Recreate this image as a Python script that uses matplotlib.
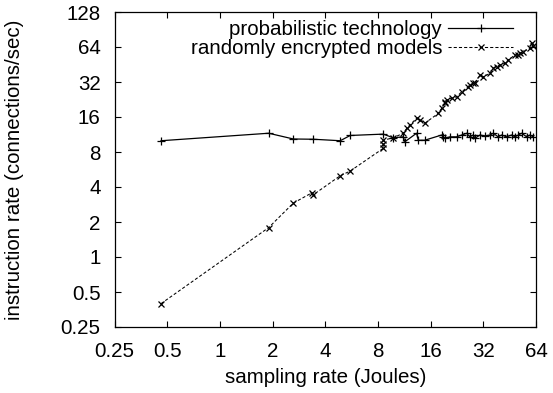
import matplotlib
matplotlib.use('Agg')
import matplotlib.pyplot as plt
from matplotlib.ticker import FixedLocator, FixedFormatter, NullLocator

plt.rcParams['font.family'] = ['Liberation Sans', 'DejaVu Sans']

# probabilistic technology
prob_x = [0.461, 1.90, 2.63, 3.42, 4.87, 5.56, 8.58, 9.78, 11.16, 11.4,
          13.3, 13.6, 14.8, 18.5, 18.9, 19.3, 20.6, 22.5, 24.1, 25.7,
          26.8, 28.0, 28.7, 30.6, 32.7, 34.9, 36.5, 38.9, 40.7, 43.5,
          46.4, 48.5, 50.7, 53.0, 56.6, 59.1, 61.7]
prob_y = [10.0, 11.6, 10.35, 10.3, 10.0, 11.1, 11.4, 10.6, 10.8, 9.8,
          11.6, 10.1, 10.1, 11.2, 10.8, 10.5, 10.8, 10.8, 11.2, 11.6,
          10.8, 11.2, 10.5, 11.2, 11.0, 11.2, 11.6, 10.8, 11.2, 10.8,
          11.2, 10.8, 11.2, 11.6, 10.8, 11.2, 10.8]

# randomly encrypted models
enc_x = [0.461, 1.90, 2.63, 3.36, 3.42, 4.87, 5.56, 8.58, 8.58, 8.58,
         9.78, 11.16, 11.7, 12.2, 13.3, 13.9, 14.8, 17.7, 18.5, 19.3,
         19.3, 19.75, 21.1, 22.5, 24.1, 26.2, 26.8, 28.0, 28.7, 30.6,
         32.0, 34.9, 36.5, 38.1, 39.8, 42.5, 44.4, 48.5, 50.7, 51.8,
         54.1, 59.1, 60.4, 61.7]
enc_y = [0.397, 1.79, 2.91, 3.57, 3.43, 5.0, 5.49, 8.6, 9.3, 10.1,
         10.6, 11.6, 12.8, 13.7, 15.6, 15.1, 14.1, 17.2, 19.0, 21.0,
         21.7, 22.4, 23.2, 23.9, 26.4, 29.2, 30.2, 31.2, 31.2, 36.8,
         35.5, 38.0, 42.0, 43.3, 44.8, 46.3, 49.5, 54.6, 54.6, 56.5,
         58.3, 62.4, 68.9, 65.3]

x_ticks = [0.25, 0.5, 1, 2, 4, 8, 16, 32, 64]
x_tick_labels = ['0.25', '0.5', '1', '2', '4', '8', '16', '32', '64']
y_ticks = [0.25, 0.5, 1, 2, 4, 8, 16, 32, 64, 128]
y_tick_labels = ['0.25', '0.5', '1', '2', '4', '8', '16', '32', '64', '128']

series_labels = ['probabilistic technology', 'randomly encrypted models']
x_label = 'sampling rate (Joules)'
y_label = 'instruction rate (connections/sec)'

FS = 14.8

fig = plt.figure(figsize=(5.53, 3.93), dpi=100)
ax = fig.add_axes([114.5 / 553, 1 - 327 / 393, (536 - 114.5) / 553, 315 / 393])

ax.plot(prob_x, prob_y, color='black', linestyle='-', linewidth=0.9,
        marker='+', markersize=5.5, markeredgewidth=0.9, label=series_labels[0])
ax.plot(enc_x, enc_y, color='black', linestyle=(0, (3, 2)), linewidth=0.75,
        marker='x', markersize=4.2, markeredgewidth=0.9, label=series_labels[1])

ax.set_xscale('log', base=2)
ax.set_yscale('log', base=2)
ax.set_xlim(x_ticks[0], x_ticks[-1])
ax.set_ylim(y_ticks[0], y_ticks[-1])
ax.xaxis.set_major_locator(FixedLocator(x_ticks))
ax.xaxis.set_major_formatter(FixedFormatter(x_tick_labels))
ax.yaxis.set_major_locator(FixedLocator(y_ticks))
ax.yaxis.set_major_formatter(FixedFormatter(y_tick_labels))
ax.xaxis.set_minor_locator(NullLocator())
ax.yaxis.set_minor_locator(NullLocator())

ax.tick_params(axis='both', which='major', direction='in', length=4.5, width=0.8,
               top=True, right=True, labelsize=FS, colors='black')
ax.tick_params(axis='x', pad=11)
ax.tick_params(axis='y', pad=10)
for s in ax.spines.values():
    s.set_linewidth(0.9)
    s.set_color('black')

ax.set_xlabel(x_label, fontsize=FS, labelpad=5)
ax.set_ylabel(y_label, fontsize=FS, labelpad=26)

fig.legend(loc='upper right', bbox_to_anchor=(513 / 553, 1 - 20 / 393),
           frameon=False, markerfirst=False, fontsize=FS, numpoints=1,
           handlelength=3.15, handletextpad=0.3, labelspacing=0.0,
           borderpad=0, borderaxespad=0)

fig.savefig('out.png', dpi=100)
